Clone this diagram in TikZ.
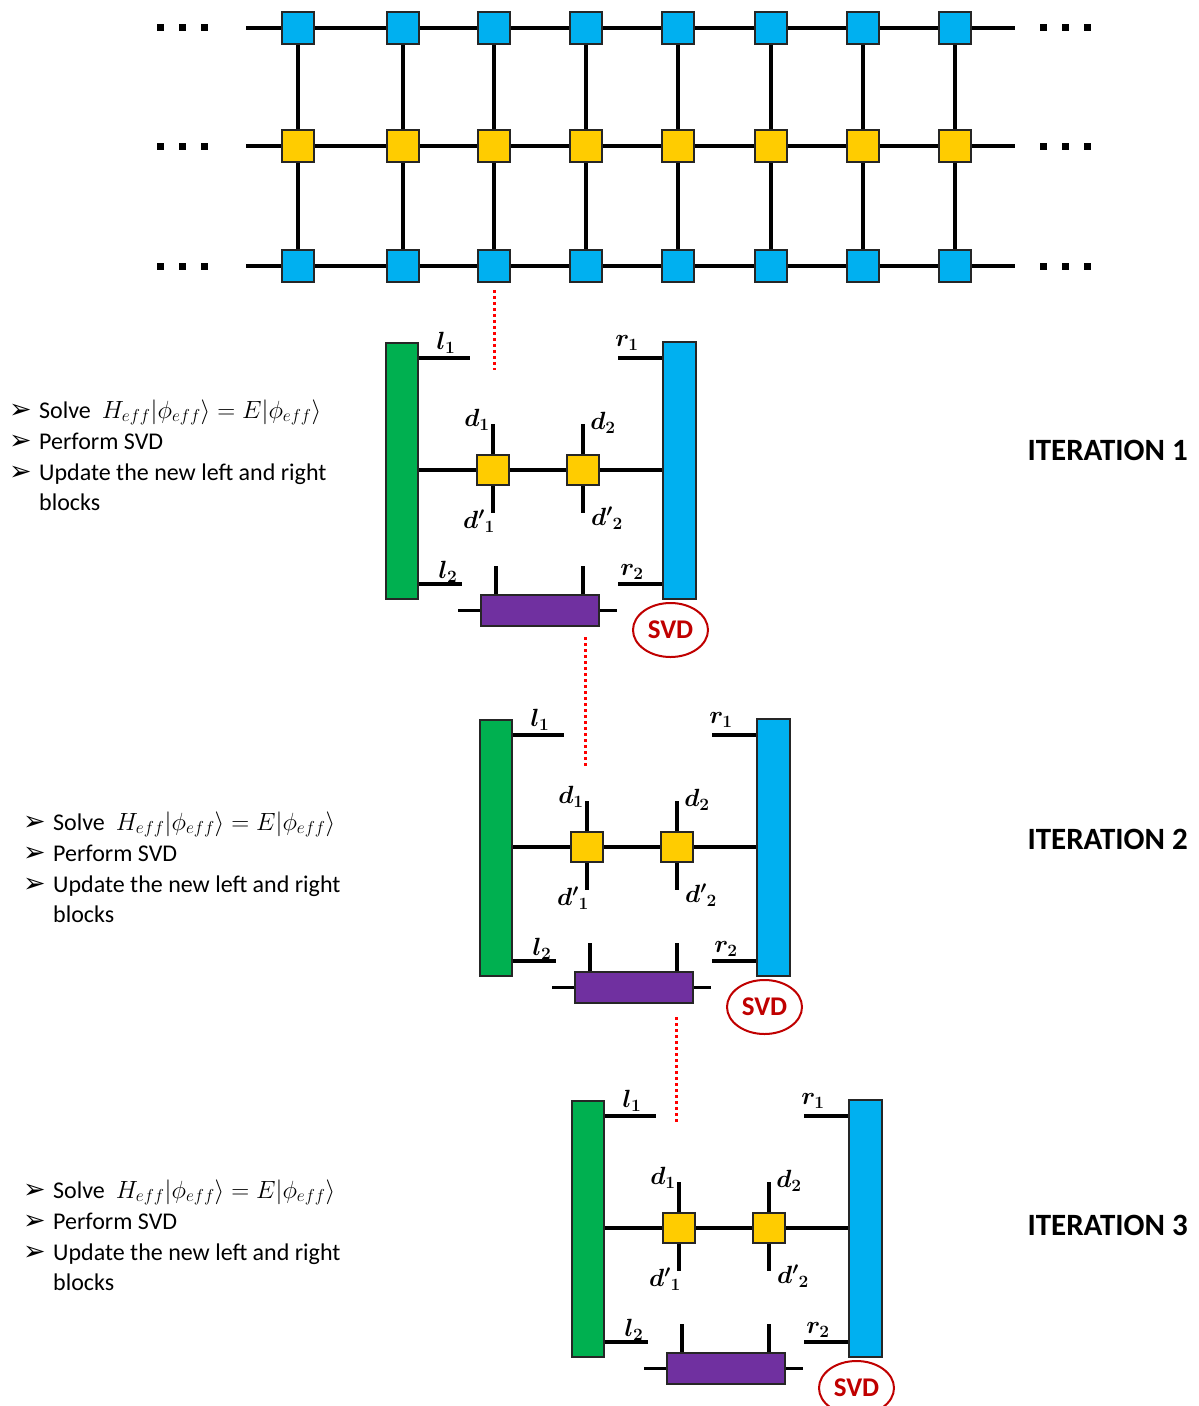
\documentclass[tikz,border=0pt]{standalone}
\usepackage{amsmath}
\usepackage{fontspec}
\usepackage{bm}
\setmainfont{Carlito}
\newfontfamily\dejavu{DejaVu Sans}
\usetikzlibrary{shapes.geometric}
\definecolor{cblue}{HTML}{00B0F0}
\definecolor{cyel}{HTML}{FFCC00}
\definecolor{cgreen}{HTML}{00B050}
\definecolor{cpurp}{HTML}{7030A0}
\definecolor{cred}{HTML}{C00000}
\begin{document}
\begin{tikzpicture}[x=1pt,y=-1pt,
  lw/.style={line width=3.5pt},
  bsq/.style={draw=black!85, line width=1.5pt, fill=cblue, minimum width=32pt, minimum height=32pt, inner sep=0pt},
  ysq/.style={bsq, fill=cyel},
  ysqb/.style={bsq, fill=cyel, minimum height=30pt},
  gbar/.style={draw=black!85, line width=1.5pt, fill=cgreen, minimum width=32pt, minimum height=256pt, inner sep=0pt},
  bbar/.style={gbar, fill=cblue, minimum width=33pt, minimum height=257pt},
  pbar/.style={gbar, fill=cpurp, minimum width=118pt, minimum height=31pt},
  svd/.style={ellipse, draw=cred, line width=2pt, minimum width=75pt, minimum height=54pt, inner sep=0pt, text=cred, font=\fontsize{27}{30}\selectfont\bfseries},
  lab/.style={inner sep=0pt, font=\fontsize{23}{26}\selectfont},
  reddot/.style={draw=red, line width=3pt, dash pattern=on 3pt off 3pt},
  itlab/.style={anchor=east, inner sep=0pt, font=\fontsize{31}{36}\selectfont\bfseries},
  arrb/.style={anchor=base west, inner sep=0pt, font=\fontsize{27}{30}\dejavu},
  txt/.style={anchor=base west, inner sep=0pt, font=\fontsize{24}{29}\selectfont}
]
\useasboundingbox (0,0) rectangle (1199,1406);
\fill[white] (0,0) rectangle (1199,1406);

% ---------- top grid ----------
\foreach \c/\x in {1/298,2/403,3/494,4/586,5/678,6/771,7/863,8/955} {
  \node[bsq] (t\c) at (\x,28) {};
  \node[ysq] (m\c) at (\x,146) {};
  \node[bsq] (b\c) at (\x,266) {};
  \draw[lw] (t\c) -- (m\c) -- (b\c);
}
\coordinate (tl) at (246,28);  \coordinate (tr) at (1015,28);
\coordinate (ml) at (246,146); \coordinate (mr) at (1015,146);
\coordinate (bl) at (246,266); \coordinate (br) at (1015,266);
\foreach \r in {t,m,b} {
  \draw[lw] (\r l) -- (\r 1);
  \draw[lw] (\r 8) -- (\r r);
  \foreach \a/\b in {1/2,2/3,3/4,4/5,5/6,6/7,7/8} { \draw[lw] (\r\a) -- (\r\b); }
}
\foreach \x in {160,182,204,1043,1065,1087} {
  \foreach \y in {27,146,266} { \fill (\x-3.5,\y-3.5) rectangle ++(7,7); }
}

% ---------- iterations ----------
\foreach \i/\dx/\dy in {1/0/0,2/94/377,3/186/758} {
\begin{scope}[shift={(\dx,\dy)}]
  \node[gbar] (g\i) at (402,471) {};
  \node[bbar] (r\i) at (679.5,470.5) {};
  \node[ysqb] (ya\i) at (493,470) {};
  \node[ysqb] (yb\i) at (583,470) {};
  \node[pbar] (p\i) at (540,610.5) {};
  \node[svd] (s\i) at (670.5,630) {SVD};
  \coordinate (l1e\i) at (470,358);
  \coordinate (r1e\i) at (618,358);
  \coordinate (l2e\i) at (462,584);
  \coordinate (r2e\i) at (618,584);
  \coordinate (dat\i) at (493,424); \coordinate (dab\i) at (493,513);
  \coordinate (dbt\i) at (583,424); \coordinate (dbb\i) at (583,513);
  \coordinate (pl\i) at (496,566); \coordinate (pr\i) at (583,566);
  \coordinate (pw\i) at (458,610.5); \coordinate (pe\i) at (617,610.5);
  \draw[lw] (g\i.east |- l1e\i) -- (l1e\i);
  \draw[lw] (r1e\i) -- (r\i.west |- r1e\i);
  \draw[lw] (g\i.east |- l2e\i) -- (l2e\i);
  \draw[lw] (r2e\i) -- (r\i.west |- r2e\i);
  \draw[lw] (g\i.east |- ya\i) -- (ya\i) -- (yb\i) -- (r\i.west |- yb\i);
  \draw[lw] (ya\i) -- (dat\i);  \draw[lw] (ya\i) -- (dab\i);
  \draw[lw] (yb\i) -- (dbt\i);  \draw[lw] (yb\i) -- (dbb\i);
  \draw[lw] (p\i.north -| pl\i) -- (pl\i);
  \draw[lw] (p\i.north -| pr\i) -- (pr\i);
  \draw[lw] (pw\i) -- (p\i.west);
  \draw[lw] (p\i.east) -- (pe\i);
  \node[lab] (tl1\i) at (446,343) {$\bm{l_1}$};
  \node[lab] (tr1\i) at (627,343) {$\bm{r_1}$};
  \node[lab] (tl2\i) at (448,572) {$\bm{l_2}$};
  \node[lab] (tr2\i) at (632,572) {$\bm{r_2}$};
  \node[lab] (td1\i) at (477,420) {$\bm{d_1}$};
  \node[lab] (td2\i) at (603,423) {$\bm{d_2}$};
  \node[lab] (tdp1\i) at (479,521) {$\bm{{d'}_1}$};
  \node[lab] (tdp2\i) at (607,518) {$\bm{{d'}_2}$};
\end{scope}
}

% ---------- red dotted links ----------
\coordinate (q0a) at (494,290);  \coordinate (q0b) at (494,370);
\coordinate (q1a) at (585,637);  \coordinate (q1b) at (585,766);
\coordinate (q2a) at (676,1017); \coordinate (q2b) at (676,1122);
\draw[reddot] (q0a) -- (q0b);
\draw[reddot] (q1a) -- (q1b);
\draw[reddot] (q2a) -- (q2b);

% ---------- iteration labels ----------
\node[itlab] (it1) at (1188,450) {ITERATION 1};
\node[itlab] (it2) at (1188,839) {ITERATION 2};
\node[itlab] (it3) at (1188,1225) {ITERATION 3};

% ---------- bullet text ----------
\foreach \i/\ax/\tx/\ty in {1/9/39/418, 2/23/53/830, 3/23/53/1198} {
  \node[arrb] (a\i x) at (\ax,\ty) {➢};
  \node[arrb] (a\i y) at (\ax,\ty+31) {➢};
  \node[arrb] (a\i z) at (\ax,\ty+62) {➢};
  \node[txt] (s\i x) at (\tx,\ty) {Solve \ $H_{eff}|\phi_{eff}\rangle = E|\phi_{eff}\rangle$};
  \node[txt] (s\i y) at (\tx,\ty+31) {Perform SVD};
  \node[txt] (s\i z) at (\tx,\ty+62) {Update the new left and right};
  \node[txt] (s\i w) at (\tx,\ty+92) {blocks};
}
\end{tikzpicture}
\end{document}
